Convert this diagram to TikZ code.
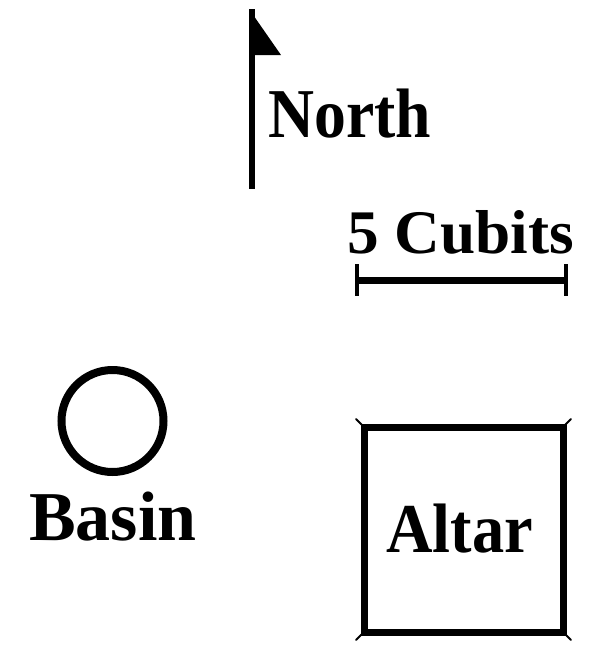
\documentclass[tikz,border=0pt]{standalone}
\usepackage{fontspec}
\setmainfont{Liberation Serif}
\tikzset{
  plantext/.style={inner sep=0pt, anchor=base west, font=\fontsize{70}{70}\selectfont\bfseries},
  heavyline/.style={line width=7pt},
  cornertick/.style={line width=2pt, line cap=round}
}

\begin{document}
\begin{tikzpicture}[x=1pt, y=-1pt]
			%%%%% START %%%%%
			\useasboundingbox (0, 0) rectangle (589, 646);
			
			% north flag
			\coordinate (poletop) at (252, 9);
			\coordinate (polefoot) at (252, 189);
			\draw[line width=6pt] (poletop) -- (polefoot);
			\fill (249, 9) -- (281, 55) -- (249, 55) -- cycle;
			\node[plantext] (north) at (268, 137) {\scalebox{0.91}[1]{North}};
			
			% scale
			\node[plantext, font=\fontsize{62}{62}\selectfont\bfseries] (cubits) at (347, 253) {\scalebox{1.02}[1]{5 Cubits}};
			\coordinate (scaleW) at (357, 280);
			\coordinate (scaleE) at (566, 280);
			\draw[heavyline] (scaleW) -- (scaleE);
			\draw[line width=4pt] (357, 264) -- (357, 296);
			\draw[line width=4pt] (566, 264) -- (566, 296);
			
			% basin
			\draw[line width=8pt] (112.5, 421) circle (51);
			\node[plantext] (basin) at (29, 540) {Basin};
			
			% altar
			\draw[heavyline] (364, 427) rectangle (563, 632);
			\draw[cornertick] (364, 427) -- (356, 419);
			\draw[cornertick] (563, 427) -- (571, 419);
			\draw[cornertick] (364, 632) -- (356, 640);
			\draw[cornertick] (563, 632) -- (571, 640);
			\node[plantext] (altar) at (386, 552) {\scalebox{0.92}[1]{Altar}};
			
			%%%%% END %%%%%
\end{tikzpicture}
\end{document}
